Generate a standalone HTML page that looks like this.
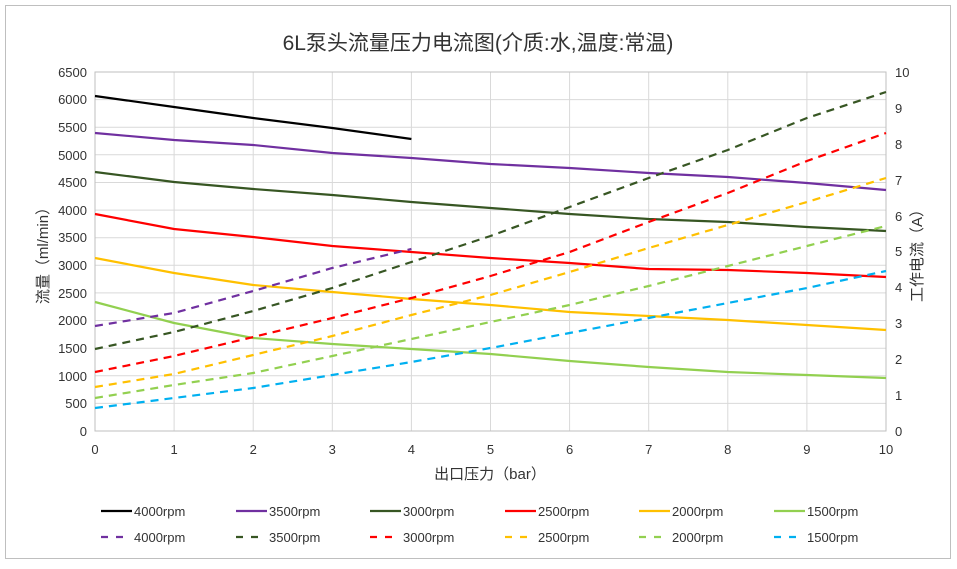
<!DOCTYPE html>
<html><head><meta charset="utf-8"><style>
html,body{margin:0;padding:0;background:#fff}
svg text{font-family:"Liberation Sans","Noto Sans CJK SC",sans-serif}
</style></head><body>
<svg width="957" height="564" viewBox="0 0 957 564" xmlns="http://www.w3.org/2000/svg">
<rect x="5.5" y="5.5" width="945" height="553" fill="#fff" stroke="#bfbfbf"/>
<text x="478" y="50" font-size="21" text-anchor="middle" fill="#333" font-family="Noto Sans CJK SC, sans-serif">6L泵头流量压力电流图(介质:水,温度:常温)</text>
<g stroke="#d9d9d9" stroke-width="1">
<line x1="95" y1="72" x2="886" y2="72"/><line x1="95" y1="99.6" x2="886" y2="99.6"/><line x1="95" y1="127.2" x2="886" y2="127.2"/><line x1="95" y1="154.8" x2="886" y2="154.8"/><line x1="95" y1="182.5" x2="886" y2="182.5"/><line x1="95" y1="210.1" x2="886" y2="210.1"/><line x1="95" y1="237.7" x2="886" y2="237.7"/><line x1="95" y1="265.3" x2="886" y2="265.3"/><line x1="95" y1="292.9" x2="886" y2="292.9"/><line x1="95" y1="320.5" x2="886" y2="320.5"/><line x1="95" y1="348.2" x2="886" y2="348.2"/><line x1="95" y1="375.8" x2="886" y2="375.8"/><line x1="95" y1="403.4" x2="886" y2="403.4"/>
<line x1="174.1" y1="72" x2="174.1" y2="431"/><line x1="253.2" y1="72" x2="253.2" y2="431"/><line x1="332.3" y1="72" x2="332.3" y2="431"/><line x1="411.4" y1="72" x2="411.4" y2="431"/><line x1="490.5" y1="72" x2="490.5" y2="431"/><line x1="569.6" y1="72" x2="569.6" y2="431"/><line x1="648.7" y1="72" x2="648.7" y2="431"/><line x1="727.8" y1="72" x2="727.8" y2="431"/><line x1="806.9" y1="72" x2="806.9" y2="431"/>
</g>
<rect x="95" y="72" width="791" height="359" fill="none" stroke="#bfbfbf"/>
<g font-size="13" fill="#333" text-anchor="end">
<text x="87" y="77">6500</text><text x="87" y="104">6000</text><text x="87" y="132">5500</text><text x="87" y="160">5000</text><text x="87" y="187">4500</text><text x="87" y="215">4000</text><text x="87" y="242">3500</text><text x="87" y="270">3000</text><text x="87" y="298">2500</text><text x="87" y="325">2000</text><text x="87" y="353">1500</text><text x="87" y="381">1000</text><text x="87" y="408">500</text><text x="87" y="436">0</text>
</g>
<g font-size="13" fill="#333" text-anchor="start">
<text x="895" y="77">10</text><text x="895" y="113">9</text><text x="895" y="149">8</text><text x="895" y="185">7</text><text x="895" y="221">6</text><text x="895" y="256">5</text><text x="895" y="292">4</text><text x="895" y="328">3</text><text x="895" y="364">2</text><text x="895" y="400">1</text><text x="895" y="436">0</text>
</g>
<g font-size="13" fill="#333" text-anchor="middle" font-family="Liberation Serif, serif">
<text x="95" y="454">0</text><text x="174.1" y="454">1</text><text x="253.2" y="454">2</text><text x="332.3" y="454">3</text><text x="411.4" y="454">4</text><text x="490.5" y="454">5</text><text x="569.6" y="454">6</text><text x="648.7" y="454">7</text><text x="727.8" y="454">8</text><text x="806.9" y="454">9</text><text x="886" y="454">10</text>
</g>
<text x="490" y="479" font-size="15" fill="#333" text-anchor="middle" font-family="Noto Sans CJK SC, sans-serif">出口压力（bar）</text>
<text transform="translate(48,252) rotate(-90)" font-size="15" fill="#333" text-anchor="middle" font-family="Noto Sans CJK SC, sans-serif">流量（ml/min）</text>
<text transform="translate(922,252) rotate(-90)" font-size="15" fill="#333" text-anchor="middle" font-family="Noto Sans CJK SC, sans-serif">工作电流（A）</text>
<g fill="none" stroke-width="2.2" stroke-linejoin="round">
<polyline stroke="#000" points="95,96 174.1,107 253.2,118 332.3,128 411.4,139"/>
<polyline stroke="#7030a0" points="95,133 174.1,140 253.2,145 332.3,153 411.4,158 490.5,164 569.6,168 648.7,173 727.8,177 806.9,183 886,190"/>
<polyline stroke="#375623" points="95,172 174.1,182 253.2,189 332.3,195 411.4,202 490.5,208 569.6,214 648.7,219 727.8,222 806.9,227 886,231"/>
<polyline stroke="#ff0000" points="95,214 174.1,229 253.2,237 332.3,246 411.4,252 490.5,258 569.6,263 648.7,269 727.8,270 806.9,273 886,277"/>
<polyline stroke="#ffc000" points="95,258 174.1,273 253.2,285 332.3,292 411.4,299 490.5,305 569.6,312 648.7,316 727.8,320 806.9,325 886,330"/>
<polyline stroke="#92d050" points="95,302 174.1,323 253.2,338 332.3,344 411.4,349 490.5,354 569.6,361 648.7,367 727.8,372 806.9,375 886,378"/>
</g>
<g fill="none" stroke-width="2.2" stroke-dasharray="8,6">
<polyline stroke="#7030a0" points="95,326 174.1,313 253.2,291 332.3,268 411.4,249"/>
<polyline stroke="#375623" points="95,349 174.1,332 253.2,311 332.3,288 411.4,262 490.5,236 569.6,207 648.7,178 727.8,150 806.9,118 886,92"/>
<polyline stroke="#ff0000" points="95,372 174.1,356 253.2,337 332.3,318 411.4,298 490.5,276 569.6,252 648.7,222 727.8,193 806.9,161 886,133"/>
<polyline stroke="#ffc000" points="95,387 174.1,374 253.2,355 332.3,336 411.4,315 490.5,295 569.6,272 648.7,248 727.8,225 806.9,202 886,178"/>
<polyline stroke="#92d050" points="95,398 174.1,385 253.2,373 332.3,356 411.4,339 490.5,322 569.6,305 648.7,286 727.8,266 806.9,246 886,226"/>
<polyline stroke="#00b0f0" points="95,408 174.1,398 253.2,388 332.3,375 411.4,362 490.5,348 569.6,333 648.7,318 727.8,303 806.9,288 886,271"/>
</g>
<g stroke-width="2.2">
<line x1="101" y1="511" x2="132" y2="511" stroke="#000"/>
<line x1="236" y1="511" x2="267" y2="511" stroke="#7030a0"/>
<line x1="370" y1="511" x2="401" y2="511" stroke="#375623"/>
<line x1="505" y1="511" x2="536" y2="511" stroke="#ff0000"/>
<line x1="639" y1="511" x2="670" y2="511" stroke="#ffc000"/>
<line x1="774" y1="511" x2="805" y2="511" stroke="#92d050"/>
</g>
<g stroke-width="2.2" stroke-dasharray="7,8">
<line x1="101" y1="537" x2="131" y2="537" stroke="#7030a0"/>
<line x1="236" y1="537" x2="266" y2="537" stroke="#375623"/>
<line x1="370" y1="537" x2="400" y2="537" stroke="#ff0000"/>
<line x1="505" y1="537" x2="535" y2="537" stroke="#ffc000"/>
<line x1="639" y1="537" x2="669" y2="537" stroke="#92d050"/>
<line x1="774" y1="537" x2="804" y2="537" stroke="#00b0f0"/>
</g>
<g font-size="13" fill="#333" font-family="Liberation Serif, serif">
<text x="134" y="516">4000rpm</text><text x="269" y="516">3500rpm</text><text x="403" y="516">3000rpm</text><text x="538" y="516">2500rpm</text><text x="672" y="516">2000rpm</text><text x="807" y="516">1500rpm</text>
<text x="134" y="542">4000rpm</text><text x="269" y="542">3500rpm</text><text x="403" y="542">3000rpm</text><text x="538" y="542">2500rpm</text><text x="672" y="542">2000rpm</text><text x="807" y="542">1500rpm</text>
</g>
</svg>
</body></html>
